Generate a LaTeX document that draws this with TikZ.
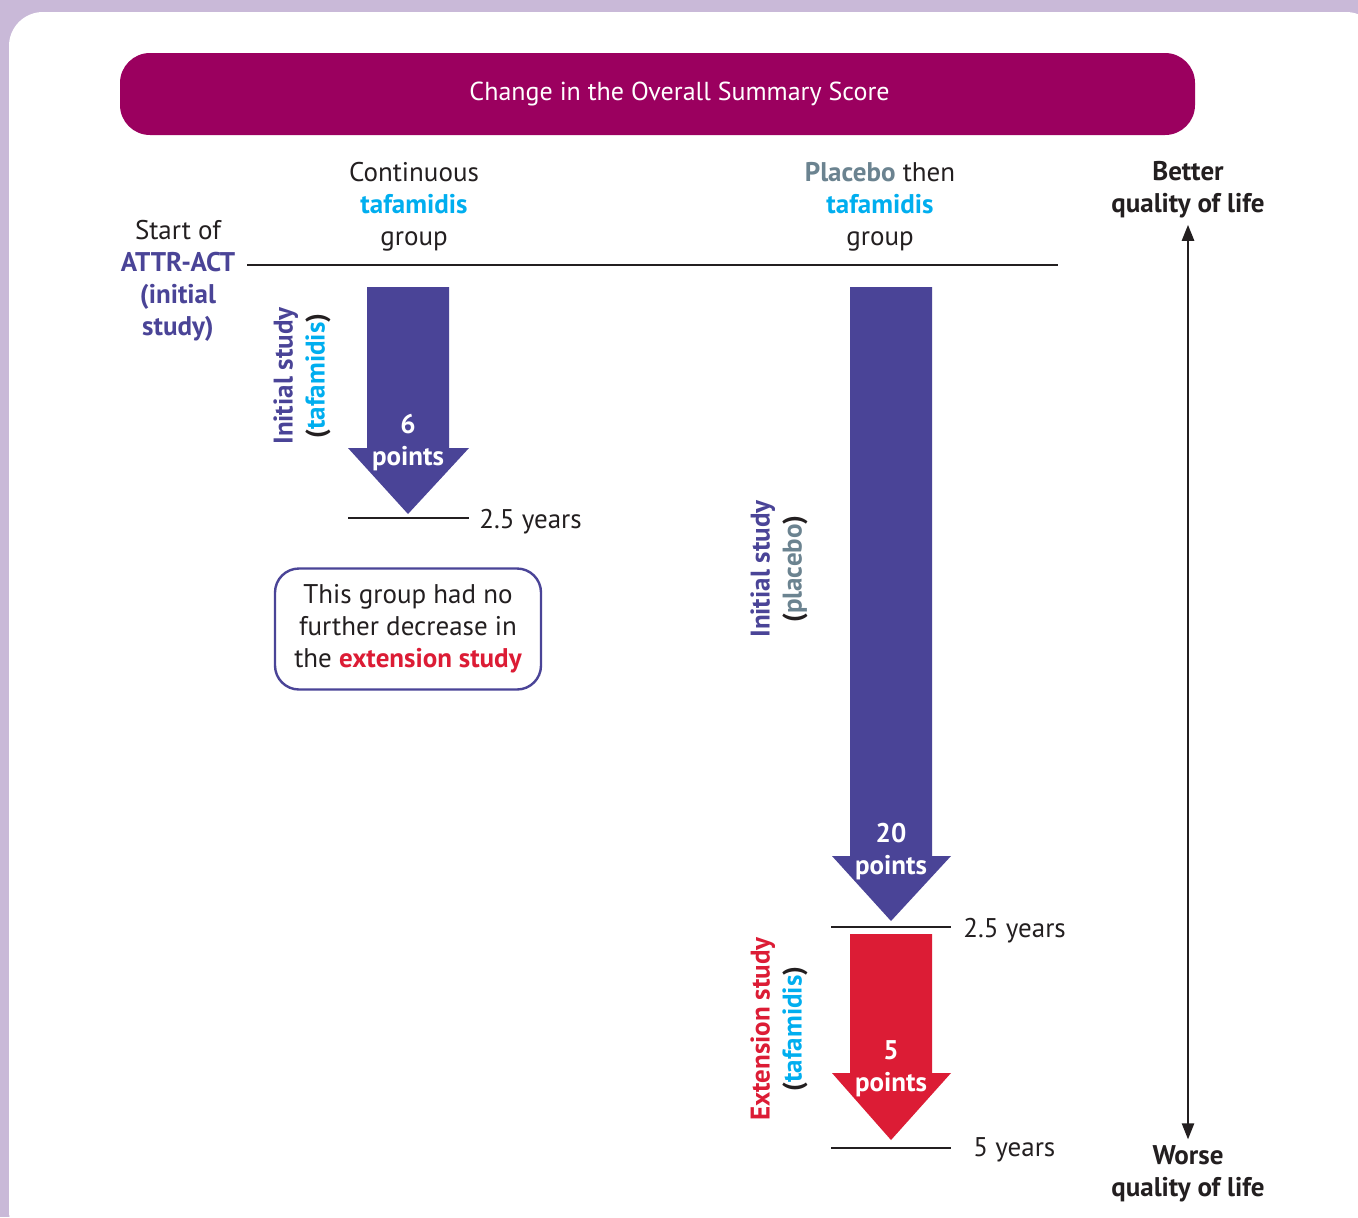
\documentclass[tikz,border=0pt]{standalone}
\usepackage{fontspec}
\setmainfont{PT Sans}
\usetikzlibrary{arrows.meta,positioning}
\definecolor{lavender}{RGB}{201,185,216}
\definecolor{titlemag}{RGB}{155,0,95}
\definecolor{studypurple}{RGB}{74,68,151}
\definecolor{extred}{RGB}{220,28,53}
\definecolor{tafacyan}{RGB}{0,174,239}
\definecolor{placgray}{RGB}{107,131,144}
\definecolor{inkdark}{RGB}{35,31,32}

\begin{document}
\begin{tikzpicture}[x=0.5pt, y=-0.5pt,
    txt/.style={align=center, font=\fontsize{13.5}{16}\selectfont, text=inkdark, inner sep=0pt},
    boldtxt/.style={txt, font=\fontsize{13.5}{16}\selectfont\bfseries},
    ptslbl/.style={boldtxt, text=white},
    sidelbl/.style={boldtxt, rotate=90},
    tick/.style={line width=1.3pt, inkdark},
    yearlbl/.style={txt, anchor=west}
  ]
    % background and panel
    \clip (0,0) rectangle (1358,1217);
    \fill[lavender] (0,0) rectangle (1358,1217);
    \fill[white, rounded corners=17pt] (9,12) rectangle (1380,1245);

    \node[fill=titlemag, rounded corners=15pt, minimum width=537.5pt, minimum height=41pt,
          inner sep=0pt] (title) at (657.5,94) {};
    \node[text=white, font=\fontsize{13}{16}\selectfont, inner sep=0pt] (titletxt) at (679.5,94)
          {Change in the Overall Summary Score};

    % column headings
    \node[txt] (startlbl) at (178,281) {Start of\\\textbf{\color{studypurple}ATTR-ACT}\\
      \textbf{\color{studypurple}(initial}\\\textbf{\color{studypurple}study)}};
    \node[txt] (contgrp) at (414,207) {Continuous\\\textbf{\color{tafacyan}tafamidis}\\group};
    \node[txt] (plcgrp) at (880,207) {\textbf{\color{placgray}Placebo} then\\\textbf{\color{tafacyan}tafamidis}\\group};
    \draw[tick] (247,265) -- (1058,265);

    % continuous tafamidis arrow
    \fill[studypurple] (367,287) -- (449,287) -- (449,448) -- (469,448) -- (408,514)
      -- (348,448) -- (367,448) -- cycle;
    \node[ptslbl] (six) at (408,443) {6\\points};
    \node[sidelbl] (initA) at (302,376) {\color{studypurple}Initial study\\(\color{tafacyan}tafamidis\color{inkdark})};
    \draw[tick] (348,518) -- (469,518);
    \node[yearlbl] (yearA) at (479,522) {2.5 years};

    \node[txt, draw=studypurple, line width=1.2pt, rounded corners=12pt,
          minimum width=133pt, minimum height=60.5pt] (nodecr) at (408,629)
          {This group had no\\further decrease in\\the \textbf{\color{extred}extension study}};

    % placebo then tafamidis arrows
    \fill[studypurple] (850,287) -- (932,287) -- (932,856) -- (951,856) -- (891,921)
      -- (832,856) -- (850,856) -- cycle;
    \node[ptslbl] (twenty) at (891,852) {20\\points};
    \node[sidelbl] (initB) at (779,569) {\color{studypurple}Initial study\\(\color{placgray}placebo\color{inkdark})};
    \draw[tick] (831,927) -- (951,927);
    \node[yearlbl] (yearB) at (963,931) {2.5 years};

    \fill[extred] (850,934) -- (932,934) -- (932,1073) -- (951,1073) -- (891,1140)
      -- (832,1073) -- (850,1073) -- cycle;
    \node[ptslbl] (five) at (891,1069) {5\\points};
    \node[sidelbl] (extB) at (779,1029) {\color{extred}Extension study\\(\color{tafacyan}tafamidis\color{inkdark})};
    \draw[tick] (831,1148) -- (951,1148);
    \node[yearlbl] (yearC) at (973,1150) {5 years};

    % quality of life axis
    \node[boldtxt] (better) at (1188,190) {Better\\quality of life};
    \node[boldtxt] (worse) at (1188,1174) {Worse\\quality of life};
    \draw[line width=1.2pt, inkdark, {Triangle[width=6pt,length=8pt]}-{Triangle[width=6pt,length=8pt]},
          shorten <=3pt, shorten >=3pt] (better) -- (worse);
  \end{tikzpicture}
\end{document}
